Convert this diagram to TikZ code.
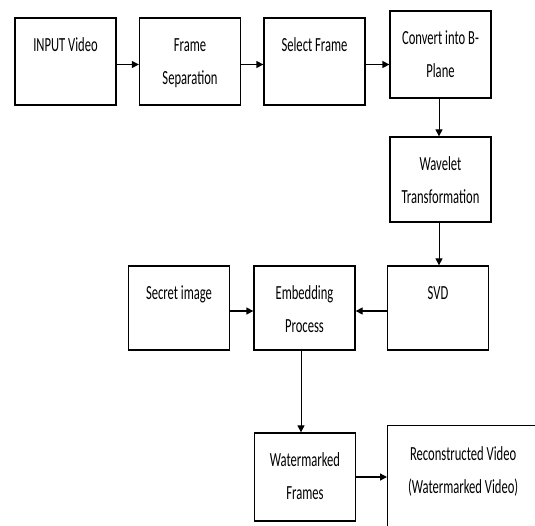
\documentclass[tikz,border=0pt]{standalone}
\usepackage{fontspec}
\setmainfont{Carlito}[FakeStretch=0.63]
\usepackage{tikz}
\usetikzlibrary{arrows.meta, positioning}

\newcommand{\boxtext}[2][87pt]{\parbox[c][#1][t]{101pt}{\centering\rule{0pt}{33pt}#2}}

\begin{document}
\begin{tikzpicture}[
    x=1pt, y=-1pt,
    box/.style={rectangle, draw=black, line width=1.3pt, minimum width=101pt, minimum height=87pt, inner sep=0pt, font=\fontsize{20}{33}\selectfont},
    flow/.style={-{Triangle[length=7pt, width=7pt]}, line width=1.3pt, black}
]
    \path[use as bounding box, clip] (0,0) rectangle (535,525);

    % Top row
    \node[box] (inp) at (65.5,61.5) {\boxtext{INPUT Video}};
    \node[box] (fsep) at (190,61.5) {\boxtext{Frame\\Separation}};
    \node[box] (sel) at (314.5,61.5) {\boxtext{Select Frame}};
    \node[box] (conv) at (440.5,54.5) {\boxtext{Convert into B-\\Plane}};

    % Right column
    \node[box, minimum height=85pt] (wav) at (440.5,179.5) {\boxtext[85pt]{Wavelet\\Transformation}};
    \node[box, minimum height=84pt] (svd) at (438,308) {\boxtext[84pt]{SVD}};

    % Middle row
    \node[box, minimum height=84pt] (emb) at (304.5,308) {\boxtext[84pt]{Embedding\\Process}};
    \node[box, minimum height=84pt] (sec) at (179,308) {\boxtext[84pt]{Secret image}};

    % Bottom row
    \node[box, minimum height=88pt] (wm) at (305,477) {\boxtext[88pt]{Watermarked\\Frames}};
    \node[box, minimum width=151pt, minimum height=110pt, anchor=north west] (rec) at (387,425) {\parbox[c][110pt][t]{140pt}{\centering\rule{0pt}{35pt}Reconstructed Video\\(Watermarked Video)}};

    % Connections
    \draw[flow] ([yshift=-3pt]inp.east) -- ([yshift=-3pt]fsep.west);
    \draw[flow] ([yshift=-3pt]fsep.east) -- ([yshift=-3pt]sel.west);
    \draw[flow] ([yshift=-3pt]sel.east) -- ([yshift=-3pt]sel.east -| conv.west);
    \draw[flow, line width=1pt] ([xshift=-1.5pt]conv.south) -- ([xshift=-1.5pt]wav.north);
    \draw[flow, line width=1pt] ([xshift=-1.5pt]wav.south) -- ([xshift=1pt]svd.north);
    \draw[flow] ([yshift=-3pt]svd.west) -- ([yshift=-3pt]emb.east);
    \draw[flow] ([yshift=-3pt]sec.east) -- ([yshift=-3pt]emb.west);
    \draw[flow, line width=1pt] ([xshift=-3.5pt]emb.south) -- ([xshift=-4pt]wm.north);
    \draw[flow] (wm.east) -- (wm.east -| rec.west);
\end{tikzpicture}
\end{document}
